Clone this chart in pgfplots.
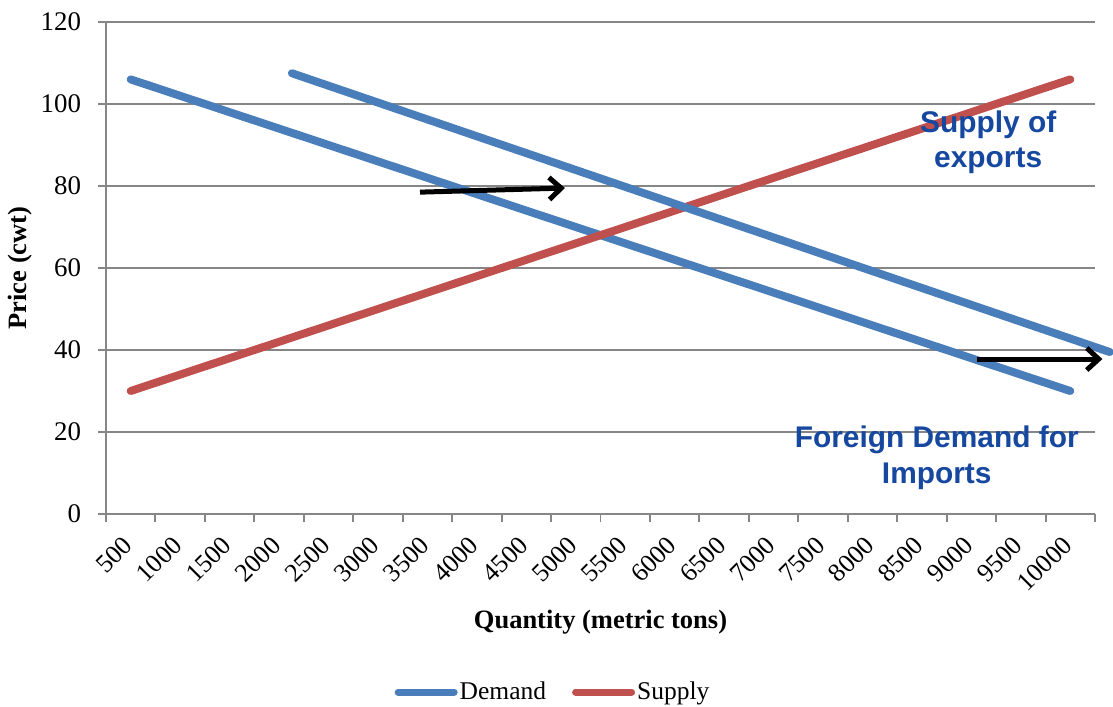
\documentclass[border=0pt]{standalone}
\usepackage{fontspec}
\setmainfont{Liberation Serif}
\newfontfamily\annfont{Liberation Sans}
\usepackage{pgfplots}
\pgfplotsset{compat=1.18}
\usetikzlibrary{arrows.meta}
\definecolor{dblue}{RGB}{74,126,187}
\definecolor{sred}{RGB}{192,80,77}
\definecolor{tblue}{RGB}{22,72,160}
\definecolor{gridgray}{RGB}{134,134,134}
\begin{document}
\begin{tikzpicture}
\begin{axis}[
  scale only axis, width=494.5bp, height=246bp,
  xmin=-0.5, xmax=19.5, ymin=0, ymax=120,
  clip=false,
  axis x line=bottom, axis y line=left,
  axis line style={gridgray, line width=1pt, -},
  tick align=outside,
  xtick={0,...,19},
  xticklabels={500,1000,1500,2000,2500,3000,3500,4000,4500,5000,5500,6000,6500,7000,7500,8000,8500,9000,9500,10000},
  major x tick style={draw=none},
  minor xtick={-0.5,0.5,...,19.5},
  minor tick length=4bp,
  major tick length=4bp,
  minor x tick style={gridgray, line width=1pt},
  ytick={0,20,...,120},
  y tick style={gridgray, line width=1pt},
  ymajorgrids,
  grid style={gridgray, line width=0.75pt},
  /pgf/number format/assume math mode=true,
  xticklabel style={font=\fontsize{13}{14}\selectfont, rotate=45, anchor=east, xshift=1.5bp},
  xticklabel shift=8bp,
  yticklabel style={font=\fontsize{13.5}{15}\selectfont, xshift=-5bp},
  xlabel={\bfseries Quantity (metric tons)},
  ylabel={\bfseries Price (cwt)},
  label style={font=\fontsize{13.3}{15}\selectfont},
  xlabel style={at={(axis description cs:0.5,-0.22)}, anchor=center},
  ylabel style={at={(axis description cs:-0.087,0.5)}, anchor=center},
  legend style={at={(axis description cs:0.452,-0.362)}, anchor=center, draw=none,
    font=\fontsize{12.8}{14}\selectfont, legend columns=2,
    nodes={inner xsep=1bp},
    /tikz/every even column/.append style={column sep=12bp}},
  legend image code/.code={\draw[#1, line width=3.5bp, line cap=round] (1bp,0bp) -- (29bp,0bp);},
]
\addplot[dblue, line width=4bp, line cap=round] coordinates {
 (0,106) (1,102) (2,98) (3,94) (4,90) (5,86) (6,82) (7,78) (8,74) (9,70)
 (10,66) (11,62) (12,58) (13,54) (14,50) (15,46) (16,42) (17,38) (18,34) (19,30)};
\addlegendentry{Demand}
\addplot[sred, line width=4bp, line cap=round] coordinates {
 (0,30) (1,34) (2,38) (3,42) (4,46) (5,50) (6,54) (7,58) (8,62) (9,66)
 (10,70) (11,74) (12,78) (13,82) (14,86) (15,90) (16,94) (17,98) (18,102) (19,106)};
\addlegendentry{Supply}
\addplot[dblue, line width=4bp, line cap=round, forget plot] coordinates {(3.26,107.5) (19.8,39.5)};
\addplot[black, line width=2.5bp, -{Straight Barb[length=6bp, width=11bp]}, forget plot] coordinates {(5.85,78.5) (8.78,79.5)};
\addplot[black, line width=2.5bp, -{Straight Barb[length=6bp, width=11bp]}, forget plot] coordinates {(17.12,37.8) (19.65,37.8)};
\node[text=tblue, align=center, font=\annfont\bfseries\fontsize{15}{17.5}\selectfont] at (axis cs:17.34,90.7) {Supply of\\exports};
\node[text=tblue, align=center, font=\annfont\bfseries\fontsize{15}{18.5}\selectfont] at (axis cs:16.3,13.7) {Foreign Demand for\\Imports};
\end{axis}
\pgfresetboundingbox
\path (-53bp,-96.5bp) rectangle (503.5bp,257bp);
\end{tikzpicture}
\end{document}
